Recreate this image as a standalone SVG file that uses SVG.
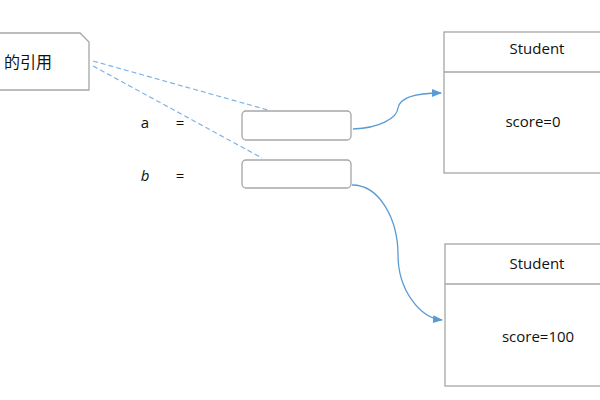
<svg xmlns="http://www.w3.org/2000/svg" width="600" height="400" viewBox="0 0 600 400">
<style>
.box{fill:#fff;stroke:#a6a6a6;stroke-width:1.3}
.t{font-family:"Open Sans","Noto Sans CJK SC",sans-serif;font-size:15px;fill:#111;text-anchor:middle}
.dash{fill:none;stroke:#7fb5e6;stroke-width:1.2;stroke-dasharray:5,3}
.arr{fill:none;stroke:#5b9bd5;stroke-width:1.3;marker-end:url(#ah)}
</style>
<defs>
<marker id="ah" markerWidth="10" markerHeight="8" refX="9" refY="4" orient="auto" markerUnits="userSpaceOnUse">
<path d="M0,0 L10,4 L0,8 Z" fill="#5b9bd5"/>
</marker>
</defs>
<g id="callout">
<path class="box" d="M-5,33 H80 L89,42 V90 H-5 Z"/>
<text class="t" x="28" y="68" style="font-size:16px">的引用</text>
</g>
<g id="label-a"><text class="t" x="145" y="128">a</text><text class="t" x="180" y="128">=</text></g>
<g id="label-b"><text class="t" x="145" y="181" font-style="italic">b</text><text class="t" x="180" y="181">=</text></g>
<g id="ref-a"><rect class="box" x="242" y="111" width="109" height="29" rx="4"/></g>
<g id="ref-b"><rect class="box" x="242" y="160" width="109" height="28" rx="4"/></g>
<g id="student1">
<rect class="box" x="444" y="32" width="170" height="141"/>
<line class="box" x1="444" y1="72" x2="614" y2="72"/>
<text class="t" x="537" y="54">Student</text>
<text class="t" x="533" y="127">score=0</text>
</g>
<g id="student2">
<rect class="box" x="445" y="244" width="170" height="142"/>
<line class="box" x1="445" y1="284" x2="615" y2="284"/>
<text class="t" x="537" y="269">Student</text>
<text class="t" x="538" y="342">score=100</text>
</g>
<g id="connectors">
<line class="dash" x1="93" y1="61" x2="268" y2="110"/>
<line class="dash" x1="93" y1="66" x2="262" y2="158"/>
<path class="arr" d="M353,129 C380,128 397,118 398,108 C400,96 420,93 441,93"/>
<path class="arr" d="M352,185 C380,185 398,220 398,255 C398,290 420,318 442,320"/>
</g>
</svg>
